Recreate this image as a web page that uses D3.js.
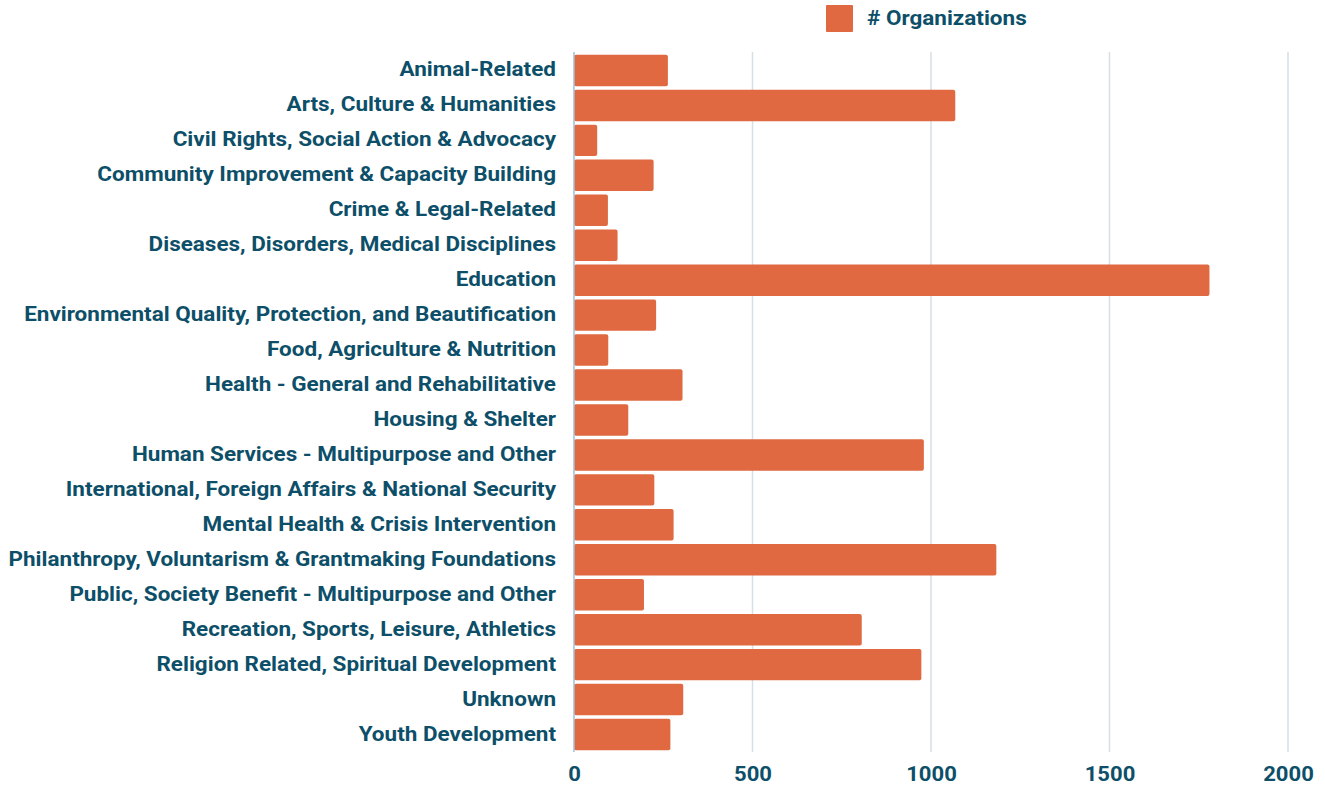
<!DOCTYPE html>
<html>
<head>
<meta charset="utf-8">
<script src="https://cdn.jsdelivr.net/npm/d3@7"></script>
<style>
  body { margin: 0; background: #fff; }
  text { font-family: Roboto, "Noto Sans", sans-serif; font-weight: 700; }
</style>
</head>
<body>
<div id="container"></div>
<script>
const WIDTH = 1325;
const HEIGHT = 788;
const MARGIN = { TOP: 52, BOTTOM: 36, LEFT: 574, RIGHT: 37 };
const TEXT_COLOR = '#0d4f69';
const BAR_COLOR = '#e06941';
const STRETCH = 1.125; // the chart's font is a bit wider than Roboto

const categories = [
  'Animal-Related',
  'Arts, Culture & Humanities',
  'Civil Rights, Social Action & Advocacy',
  'Community Improvement & Capacity Building',
  'Crime & Legal-Related',
  'Diseases, Disorders, Medical Disciplines',
  'Education',
  'Environmental Quality, Protection, and Beautification',
  'Food, Agriculture & Nutrition',
  'Health - General and Rehabilitative',
  'Housing & Shelter',
  'Human Services - Multipurpose and Other',
  'International, Foreign Affairs & National Security',
  'Mental Health & Crisis Intervention',
  'Philanthropy, Voluntarism & Grantmaking Foundations',
  'Public, Society Benefit - Multipurpose and Other',
  'Recreation, Sports, Leisure, Athletics',
  'Religion Related, Spiritual Development',
  'Unknown',
  'Youth Development'
];

const organizations = [263, 1068, 65, 223, 95, 122, 1780, 230, 96, 304,
                       152, 980, 225, 279, 1183, 196, 806, 973, 306, 270];

const xTicks = [0, 500, 1000, 1500, 2000];
const seriesName = '# Organizations';

const width = WIDTH - MARGIN.LEFT - MARGIN.RIGHT;
const height = HEIGHT - MARGIN.TOP - MARGIN.BOTTOM;

const data = categories.map((c, i) => ({ name: c, value: organizations[i] }));

const svg = d3.select('#container')
              .append('svg')
                .attr('width', WIDTH)
                .attr('height', HEIGHT);

const container = svg.append('g')
                     .attr('transform', `translate(${MARGIN.LEFT}, ${MARGIN.TOP})`);

const xscale = d3.scaleLinear()
                 .domain([0, 2000])
                 .range([0, width]);

const yscale = d3.scaleBand()
                 .domain(categories)
                 .range([1, height])
                 .paddingInner(0.1)
                 .paddingOuter(0.05);

// gridlines
container.selectAll('line.grid')
         .data(xTicks.slice(1))
         .enter()
         .append('line')
           .attr('class', 'grid')
           .attr('x1', d => xscale(d))
           .attr('x2', d => xscale(d))
           .attr('y1', 0)
           .attr('y2', height)
           .attr('stroke', '#d5dfe7')
           .attr('stroke-width', 1.5);

container.selectAll('rect.bar')
         .data(data)
         .enter()
         .append('rect')
           .attr('class', 'bar')
           .attr('x', xscale(0))
           .attr('y', d => yscale(d.name))
           .attr('width', d => xscale(d.value) - xscale(0))
           .attr('height', yscale.bandwidth())
           .attr('rx', 2)
           .attr('fill', BAR_COLOR);

// zero axis line
container.append('line')
         .attr('x1', xscale(0))
         .attr('x2', xscale(0))
         .attr('y1', 0)
         .attr('y2', height)
         .attr('stroke', '#9fc0d4')
         .attr('stroke-width', 1.5);

const axisLeft = d3.axisLeft(yscale).tickSize(0).tickPadding(18);
const axisBottom = d3.axisBottom(xscale)
                     .tickValues(xTicks)
                     .tickFormat(d3.format('d'))
                     .tickSize(0)
                     .tickPadding(14);

const gy = container.append('g').call(axisLeft);
gy.select('.domain').remove();
gy.selectAll('text')
  .attr('fill', TEXT_COLOR)
  .attr('dy', '0.30em')
  .attr('x', -18 / STRETCH)
  .attr('transform', `scale(${STRETCH}, 1)`)
  .style('font-size', '20px');

const gx = container.append('g')
                    .attr('transform', `translate(0, ${height})`)
                    .call(axisBottom);
gx.select('.domain').remove();
gx.selectAll('text')
  .attr('fill', TEXT_COLOR)
  .attr('transform', 'scale(1.05, 1)')
  .style('font-size', '21px');

// legend
const legend = svg.append('g').attr('transform', 'translate(826, 5)');
legend.append('rect')
      .attr('width', 27)
      .attr('height', 27)
      .attr('rx', 1)
      .attr('fill', BAR_COLOR);
legend.append('text')
      .attr('x', 41 / STRETCH)
      .attr('y', 13)
      .attr('dy', '0.35em')
      .attr('transform', `scale(${STRETCH}, 1)`)
      .attr('fill', TEXT_COLOR)
      .style('font-size', '20px')
      .text(seriesName);
</script>
</body>
</html>
